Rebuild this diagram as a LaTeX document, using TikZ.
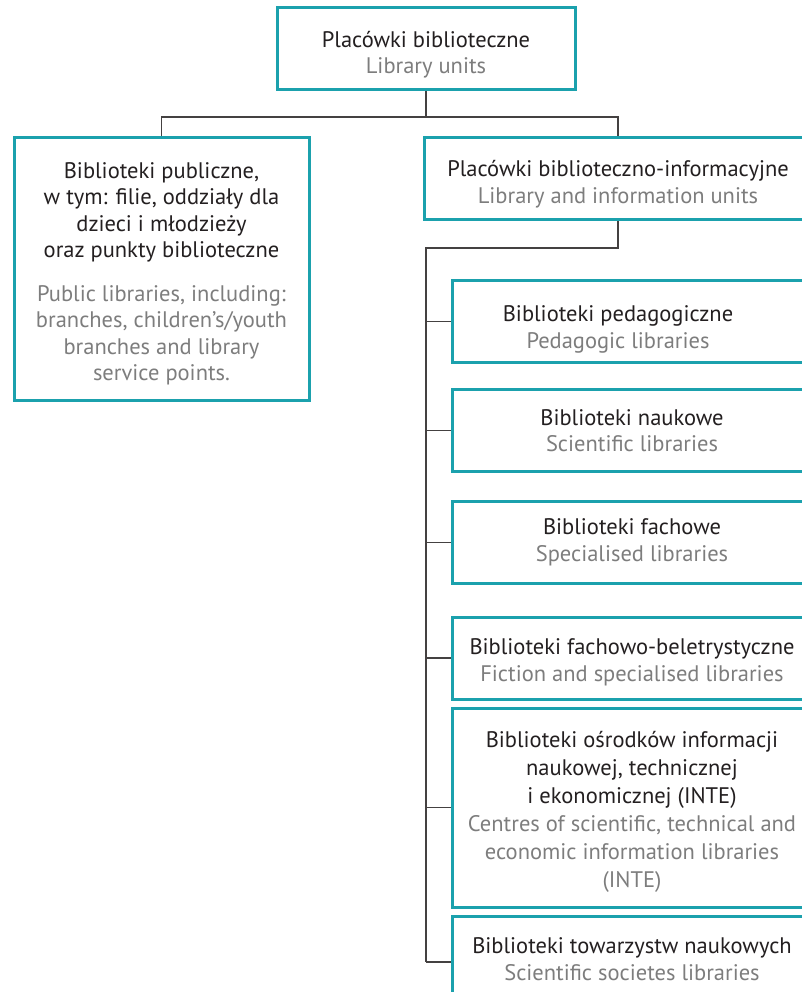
\documentclass[tikz,border=0pt]{standalone}
\usepackage{fontspec}
\setmainfont{PT Sans}
\usetikzlibrary{positioning}
\definecolor{ramka}{HTML}{1BA1AD}
\definecolor{szary}{HTML}{7D7D7D}
\definecolor{czarny}{HTML}{231F20}
\newcommand{\ang}[1]{\textcolor{szary}{#1}}
\newcommand{\gora}[1]{\rule{0pt}{#1}}
\newcommand{\dol}[1]{\rule[-#1]{0pt}{0pt}}

\begin{document}
\begin{tikzpicture}[x=1pt, y=-1pt,
  box/.style={draw=ramka, line width=3pt, align=center, text=czarny,
    font=\fontsize{22.5}{26.5}\selectfont, inner sep=0pt},
  dziecko/.style={box, minimum width=360, minimum height=82},
  link/.style={draw=czarny!85, line width=1.5pt}]
\useasboundingbox (0,0) rectangle (801,992);

% Poziom 1
\node[box, minimum width=298, minimum height=82] (glowna) at (426,49)
  {\gora{28pt}Placówki biblioteczne\\ \ang{Library units}};

% Poziom 2
\node[box, minimum width=295, minimum height=262] (publiczne) at (161.5,269)
  {\gora{25pt}Biblioteki publiczne,\\ w tym: filie, oddziały dla\\ dzieci i młodzieży\\
   oraz punkty biblioteczne\\[17pt]
   \ang{Public libraries, including:}\\ \ang{branches, children's/youth}\\
   \ang{branches and library}\\ \ang{service points.}};
\node[box, minimum width=388, minimum height=82] (informacyjne) at (618,179)
  {\gora{27pt}Placówki biblioteczno-informacyjne\\ \ang{Library and information units}};

% Poziom 3
\node[dziecko] (pedagogiczne) at (632,321.5)
  {\gora{32pt}Biblioteki pedagogiczne\hspace*{28pt}\\ \ang{Pedagogic libraries}\hspace*{28pt}};
\node[dziecko] (naukowe) at (632,430.5)
  {Biblioteki naukowe\\ \ang{Scientific libraries}};
\node[dziecko] (fachowe) at (632,542.5)
  {Biblioteki fachowe\\ \ang{Specialised libraries}};
\node[dziecko] (beletrystyczne) at (632,658)
  {\gora{24pt}Biblioteki fachowo-beletrystyczne\\ \ang{Fiction and specialised libraries}};
\node[dziecko, minimum height=199, font=\fontsize{22.5}{28}\selectfont] (inte) at (632,807.5)
  {\gora{25pt}Biblioteki ośrodków informacji\\ naukowej, technicznej\\ i ekonomicznej (INTE)\\
   \ang{Centres of scientific, technical and}\\
   \ang{economic information libraries}\\ \ang{(INTE)}};
\node[dziecko, minimum height=92] (towarzystwa) at (632,962)
  {Biblioteki towarzystw naukowych\\ \ang{Scientific societes libraries}\dol{6pt}};

% Połączenia
\coordinate (rozgal) at (426,117);
\coordinate (pien) at (426,248);
\draw[link] (glowna) -- (rozgal);
\draw[link] (publiczne.north) |- (rozgal) -| (informacyjne.north);
\draw[link] (informacyjne.south) |- (pien) -- (pien |- towarzystwa.west);
\foreach \n in {pedagogiczne, naukowe, fachowe, beletrystyczne, inte, towarzystwa} {
  \draw[link] (pien |- \n.west) -- (\n.west);
}
\end{tikzpicture}
\end{document}
